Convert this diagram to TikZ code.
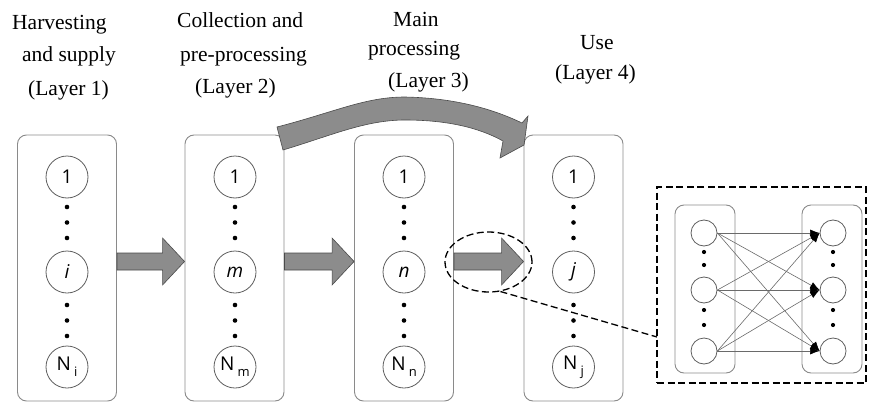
\documentclass[tikz,border=0pt]{standalone}
\usepackage{fontspec}
\setmainfont{Liberation Serif}
\newfontfamily\circfont{Open Sans}
\usetikzlibrary{arrows.meta,shapes.geometric,calc}
\definecolor{boxgray}{HTML}{8A8A8A}
\definecolor{circgray}{HTML}{5E5E5E}
\definecolor{arrfill}{HTML}{8C8C8C}
\definecolor{arrline}{HTML}{4A4A4A}
\definecolor{thinline}{HTML}{6A6A6A}
\newcommand\subtxt[1]{\,\raisebox{-0.3em}{\fontsize{13pt}{13pt}\selectfont #1}}
\newcommand\myblockarrow[2]{%
  \filldraw[blockarr] let \p1=(#1.east), \p2=(#2.west), \p3=(row) in
  (\x1,\y3+8.5pt) -- (\x2-22pt,\y3+8.5pt) -- (\x2-22pt,\y3+23.5pt) -- (\x2,\y3)
  -- (\x2-22pt,\y3-23.5pt) -- (\x2-22pt,\y3-8.5pt) -- (\x1,\y3-8.5pt) -- cycle;}
\begin{document}
\begin{tikzpicture}[x=1pt,y=-1pt,
  layerbox/.style={draw=boxgray, line width=0.9pt, rounded corners=9pt,
    minimum width=99pt, minimum height=266pt, inner sep=0pt},
  subbox/.style={draw=boxgray, line width=0.9pt, rounded corners=9pt,
    minimum width=60pt, minimum height=168pt, inner sep=0pt},
  bigcirc/.style={circle, draw=circgray, line width=0.8pt, minimum size=42pt,
    inner sep=0pt, font=\circfont\fontsize{19pt}{19pt}\selectfont},
  smallcirc/.style={circle, draw=circgray, line width=0.8pt, minimum size=26pt, inner sep=0pt},
  dotn/.style={circle, fill=black, inner sep=0pt, minimum size=4.6pt},
  blockarr/.style={fill=arrfill, draw=arrline, line width=0.6pt, line join=miter},
  innerarr/.style={draw=thinline, line width=0.6pt,
    -{Latex[length=9.5pt,width=7pt,fill=black,color=black]}},
  dashln/.style={draw=black, line width=1.3pt, dash pattern=on 7pt off 3.5pt},
  ttl/.style={anchor=base west, inner sep=0pt, font=\fontsize{21.5pt}{21.5pt}\selectfont}
]
\useasboundingbox (0,0) rectangle (869,404);

% titles
\node[ttl] (t1a) at (12,30) {Harvesting};
\node[ttl] (t1b) at (22,62) {and supply};
\node[ttl] (t1c) at (28,95) {(Layer 1)};
\node[ttl] (t2a) at (177,28) {Collection and};
\node[ttl] (t2b) at (180,61) {pre-processing};
\node[ttl] (t2c) at (195,93) {(Layer 2)};
\node[ttl] (t3a) at (393,27) {Main};
\node[ttl] (t3b) at (368,56) {processing};
\node[ttl] (t3c) at (388,87) {(Layer 3)};
\node[ttl] (t4a) at (580,50) {Use};
\node[ttl] (t4b) at (555,79) {(Layer 4)};

% layer boxes
\node[layerbox] (L1) at (67,268) {};
\node[layerbox] (L2) at (234.5,268) {};
\node[layerbox] (L3) at (404,268) {};
\node[layerbox] (L4) at (573.5,268) {};

% circles and dots
\foreach \b/\cx/\lab/\sub in {1/67/i/i, 2/235/m/m, 3/404/n/n, 4/573.5/j/j}{
  \node[bigcirc] (c\b a) at (\cx,177) {1};
  \node[bigcirc] (c\b b) at (\cx,272) {\itshape \lab};
  \node[bigcirc] (c\b c) at (\cx,367) {N\subtxt{\sub}};
  \foreach \k/\dy in {1/207,2/222.5,3/238,4/305,5/320.5,6/336}{
    \node[dotn] (d\b\k) at (\cx,\dy) {};
  }
}

% straight block arrows
\coordinate (row) at (0,261.5);
\myblockarrow{L1}{L2}
\myblockarrow{L2}{L3}
\myblockarrow{L3}{L4}

% curved block arrow from layer 2 to layer 4
\filldraw[blockarr] (277,127) .. controls (335,112) and (365,97) .. (405,97)
  .. controls (455,98) and (493,109) .. (522,123) -- (528,116) -- (524,145)
  -- (500,158) -- (503,141) .. controls (478,127) and (445,120) .. (405,120)
  .. controls (365,120) and (330,136) .. (283,150) -- cycle;

% zoom ellipse and detail box
\node[ellipse, dashln, minimum width=87pt, minimum height=60pt, inner sep=0pt] (zoom) at (488.5,262) {};
\node[dashln, minimum width=209pt, minimum height=196pt, inner sep=0pt] (detail) at (761.5,285) {};
\coordinate (dl) at (657,337);
\draw[dashln] (zoom.-68) -- (dl);

% detail network
\node[subbox] (SL) at (705,289) {};
\node[subbox] (SR) at (832,289) {};
\foreach \k/\yy in {1/233,2/290,3/351}{
  \node[smallcirc] (a\k) at (704,\yy) {};
  \node[smallcirc] (b\k) at (833,\yy) {};
}
\foreach \k/\dy in {1/252,2/265,3/310,4/325}{
  \node[dotn, minimum size=4.2pt] (la\k) at (704,\dy) {};
  \node[dotn, minimum size=4.2pt] (rb\k) at (833,\dy) {};
}
\foreach \i in {1,2,3}{
  \foreach \j in {1,2,3}{
    \draw[innerarr] (a\i.east) -- (b\j.west);
  }
}
\end{tikzpicture}
\end{document}
